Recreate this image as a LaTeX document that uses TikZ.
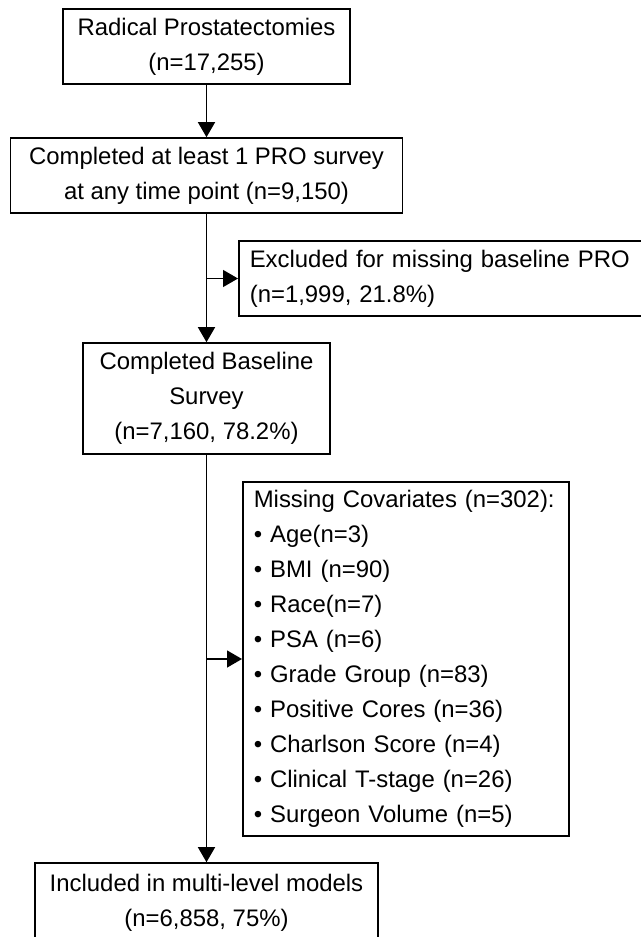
\documentclass[tikz,border=0pt]{standalone}
\usepackage{fontspec}
\setmainfont{Liberation Sans}
\usepackage{tikz}
\usetikzlibrary{arrows.meta}
\usetikzlibrary{positioning}
\usetikzlibrary{math}
\tikzstyle{box} = [rectangle, draw=black, line width=0.8pt, inner sep=0pt, align=center, font=\fontsize{11.95pt}{17.5pt}\selectfont]
\tikzstyle{lbox} = [rectangle, draw=black, line width=0.8pt, inner xsep=5.5pt, inner ysep=0pt, align=left, anchor=west, font=\fontsize{11.95pt}{17.5pt}\selectfont]
\tikzstyle{arrow} = [-{Triangle[length=7.5pt,width=8.5pt]}, line width=0.7pt]

\begin{document}
\begin{tikzpicture}[x=0.5pt, y=-0.5pt]

  \tikzmath{\xmax = 641; \ymax = 937; \xc = 206.5;}
  \useasboundingbox (0,0) rectangle (\xmax,\ymax);

  % main column
  \node[box, minimum width=143.5pt, minimum height=37.5pt] (rp) at (\xc,46.5)
    {Radical Prostatectomies\\(n=17,255)};
  \node[box, minimum width=196pt, minimum height=37.5pt] (pro) at (\xc,175.5)
    {Completed at least 1 PRO survey\\at any time point (n=9,150)};
  \node[box, minimum width=123.5pt, minimum height=55.5pt] (base) at (\xc,398.5)
    {Completed Baseline\\Survey\\(n=7,160, 78.2\%)};
  \node[box, minimum width=171.5pt, minimum height=39.5pt] (incl) at (\xc,902.5)
    {Included in multi-level models\\(n=6,858, 75\%)};

  % exclusions
  \node[lbox, text width=199pt, minimum height=37.5pt] (excl) at (238,278.5)
    {Excluded for missing baseline PRO\\(n=1,999, 21.8\%)};
  \node[lbox, text width=152pt, minimum height=177pt] (cov) at (242,659)
    {Missing Covariates (n=302):\\
     \textbullet{} Age(n=3)\\
     \textbullet{} BMI (n=90)\\
     \textbullet{} Race(n=7)\\
     \textbullet{} PSA (n=6)\\
     \textbullet{} Grade Group (n=83)\\
     \textbullet{} Positive Cores (n=36)\\
     \textbullet{} Charlson Score (n=4)\\
     \textbullet{} Clinical T-stage (n=26)\\
     \textbullet{} Surgeon Volume (n=5)};

  % arrows
  \draw[arrow] (rp) -- (pro);
  \draw[arrow] (pro) -- (base);
  \draw[arrow] (base) -- (incl);
  \draw[arrow] (pro.south |- excl.west) -- (excl.west);
  \draw[arrow] (base.south |- cov.west) -- (cov.west);

\end{tikzpicture}
\end{document}
